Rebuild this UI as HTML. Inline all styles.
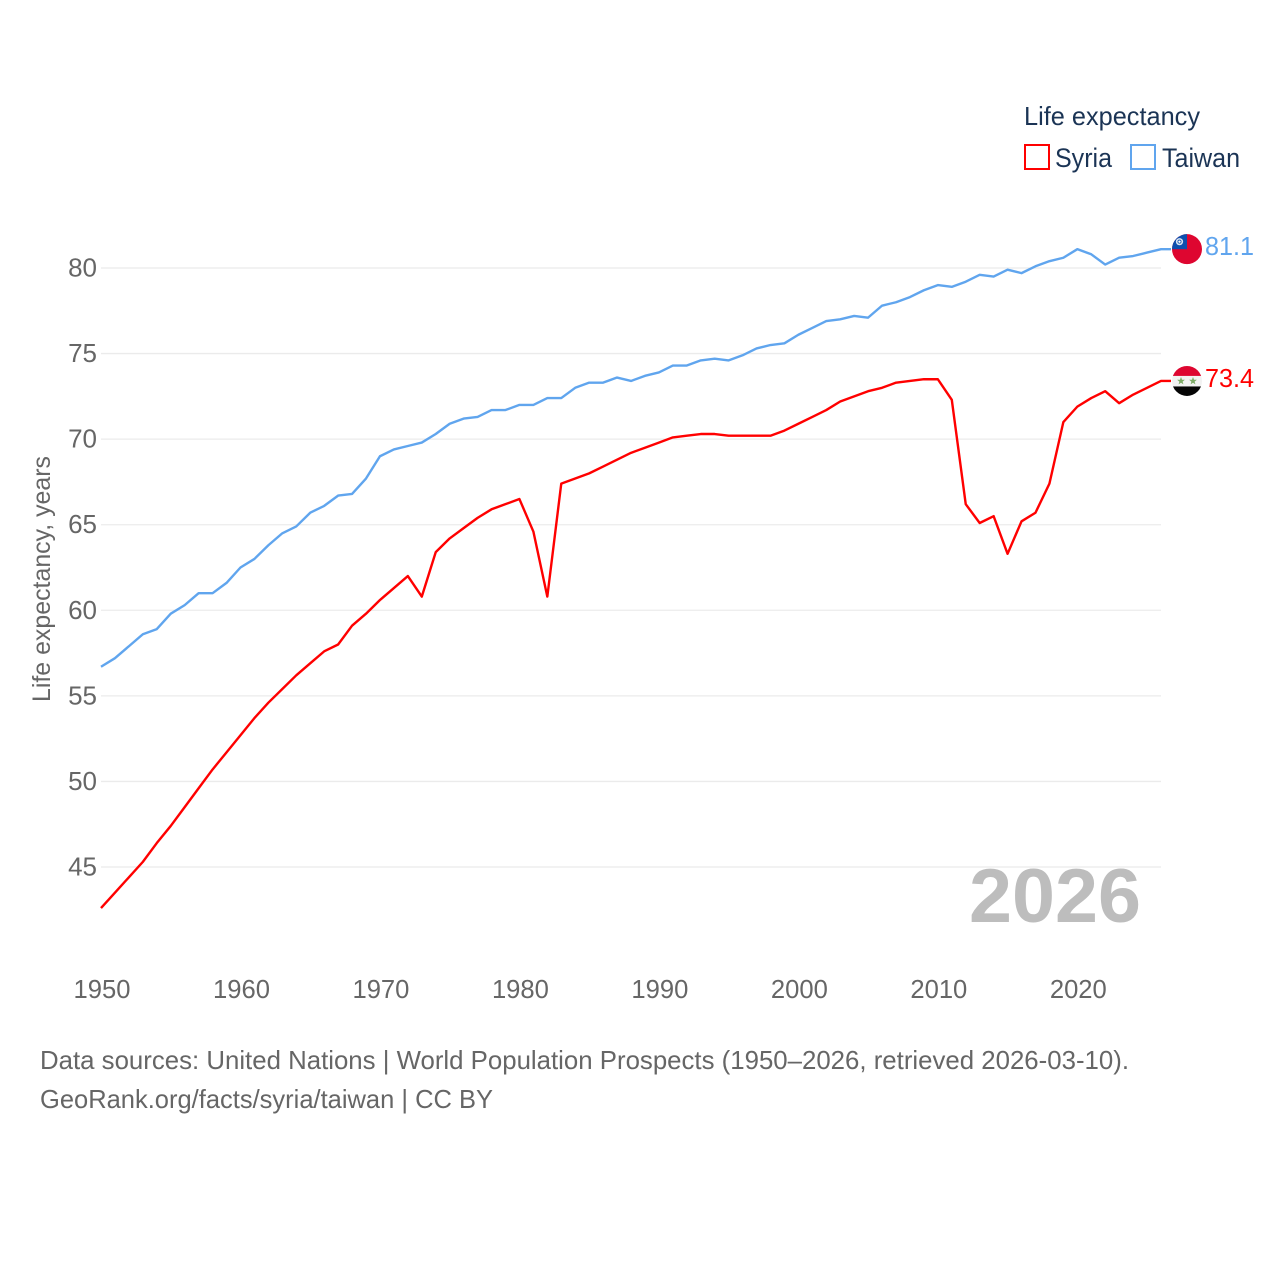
<!DOCTYPE html>
<html lang="en">
<head>
<meta charset="utf-8">
<title>Life expectancy: Syria vs Taiwan</title>
<style>
  html, body { margin: 0; padding: 0; background: #fff; }
  svg { display: block; font-family: "Liberation Sans", sans-serif; }
</style>
</head>
<body>
<svg id="chart" xmlns="http://www.w3.org/2000/svg" width="1280" height="1280" viewBox="0 0 1280 1280">
  <rect x="0" y="0" width="1280" height="1280" fill="#ffffff"/>
  <g id="grid"></g>
  <g id="y-ticks"></g>
  <g id="x-ticks"></g>
  <text x="969" y="922" font-size="76" font-weight="700" fill="#bdbdbd" textLength="172" lengthAdjust="spacingAndGlyphs">2026</text>
  <g id="series"></g>

  <text transform="translate(50,702) rotate(-90)" font-size="25" fill="#666666" textLength="246" lengthAdjust="spacingAndGlyphs">Life expectancy, years</text>

  <g>
    <text x="1024" y="125" font-size="26" fill="#1b3455" textLength="176" lengthAdjust="spacingAndGlyphs">Life expectancy</text>
    <g>
      <rect x="1025" y="145" width="24" height="24" fill="#ffffff" stroke="#ff0000" stroke-width="2"/>
      <text x="1055" y="167" font-size="27" fill="#1b3455" textLength="57" lengthAdjust="spacingAndGlyphs">Syria</text>
    </g>
    <g>
      <rect x="1131" y="145" width="24" height="24" fill="#ffffff" stroke="#60a5ee" stroke-width="2"/>
      <text x="1162" y="167" font-size="27" fill="#1b3455" textLength="78" lengthAdjust="spacingAndGlyphs">Taiwan</text>
    </g>
  </g>

  <defs>
    <clipPath id="flag-clip"><circle cx="0" cy="0" r="15"/></clipPath>
  </defs>
  <g id="flag-taiwan">
    <g clip-path="url(#flag-clip)">
      <rect x="-15" y="-16" width="30" height="32" fill="#de0630"/>
      <rect x="-15" y="-16" width="15" height="16" fill="#0d4fae"/>
      <circle cx="-7.5" cy="-7.5" r="3.6" fill="#ffffff" opacity="0.85"/>
      <circle cx="-7.5" cy="-7.5" r="2" fill="#0d4fae"/>
      <circle cx="-7.5" cy="-7.5" r="1.2" fill="#ffffff"/>
    </g>
  </g>
  <g id="flag-syria">
    <g clip-path="url(#flag-clip)">
      <rect x="-15" y="-16" width="30" height="11" fill="#de0630"/>
      <rect x="-15" y="-5" width="30" height="10.5" fill="#f2f2f2"/>
      <rect x="-15" y="5.5" width="30" height="11" fill="#050505"/>
      <polygon transform="translate(-6,0) scale(1.15)" points="0,-3.4 0.9,-1 3.4,-1 1.4,0.6 2.1,3 0,1.6 -2.1,3 -1.4,0.6 -3.4,-1 -0.9,-1" fill="#7dab66"/>
      <polygon transform="translate(6,0) scale(1.15)" points="0,-3.4 0.9,-1 3.4,-1 1.4,0.6 2.1,3 0,1.6 -2.1,3 -1.4,0.6 -3.4,-1 -0.9,-1" fill="#7dab66"/>
    </g>
  </g>
  <text id="value-taiwan" x="1205" font-size="26" fill="#60a5ee" textLength="49" lengthAdjust="spacingAndGlyphs"></text>
  <text id="value-syria" x="1205" font-size="26" fill="#ff0000" textLength="49" lengthAdjust="spacingAndGlyphs"></text>

  <text x="40" y="1069" font-size="26" fill="#666666" textLength="1089" lengthAdjust="spacingAndGlyphs">Data sources: United Nations | World Population Prospects (1950–2026, retrieved 2026-03-10).</text>
  <text x="40" y="1108" font-size="26" fill="#666666" textLength="453" lengthAdjust="spacingAndGlyphs">GeoRank.org/facts/syria/taiwan | CC BY</text>
</svg>
<script>
var firstYear = 1950;
var syriaValues = [
  42.6, 43.5, 44.4, 45.3, 46.4, 47.4, 48.5, 49.6, 50.7, 51.7,
  52.7, 53.7, 54.6, 55.4, 56.2, 56.9, 57.6, 58.0, 59.1, 59.8,
  60.6, 61.3, 62.0, 60.8, 63.4, 64.2, 64.8, 65.4, 65.9, 66.2,
  66.5, 64.6, 60.8, 67.4, 67.7, 68.0, 68.4, 68.8, 69.2, 69.5,
  69.8, 70.1, 70.2, 70.3, 70.3, 70.2, 70.2, 70.2, 70.2, 70.5,
  70.9, 71.3, 71.7, 72.2, 72.5, 72.8, 73.0, 73.3, 73.4, 73.5,
  73.5, 72.3, 66.2, 65.1, 65.5, 63.3, 65.2, 65.7, 67.4, 71.0,
  71.9, 72.4, 72.8, 72.1, 72.6, 73.0, 73.4
];
var taiwanValues = [
  56.7, 57.2, 57.9, 58.6, 58.9, 59.8, 60.3, 61.0, 61.0, 61.6,
  62.5, 63.0, 63.8, 64.5, 64.9, 65.7, 66.1, 66.7, 66.8, 67.7,
  69.0, 69.4, 69.6, 69.8, 70.3, 70.9, 71.2, 71.3, 71.7, 71.7,
  72.0, 72.0, 72.4, 72.4, 73.0, 73.3, 73.3, 73.6, 73.4, 73.7,
  73.9, 74.3, 74.3, 74.6, 74.7, 74.6, 74.9, 75.3, 75.5, 75.6,
  76.1, 76.5, 76.9, 77.0, 77.2, 77.1, 77.8, 78.0, 78.3, 78.7,
  79.0, 78.9, 79.2, 79.6, 79.5, 79.9, 79.7, 80.1, 80.4, 80.6,
  81.1, 80.8, 80.2, 80.6, 80.7, 80.9, 81.1
];
var yTickValues = [45, 50, 55, 60, 65, 70, 75, 80];
var xTickValues = [1950, 1960, 1970, 1980, 1990, 2000, 2010, 2020];

var SVG_NS = 'http://www.w3.org/2000/svg';
var plotLeft = 101;
var plotRight = 1161;
function xScale(year) { return plotLeft + (year - 1950) * (plotRight - plotLeft) / 76; }
function yScale(value) { return 268 + (80 - value) * (867 - 268) / 35; }
function make(tag, parent) {
  var el = document.createElementNS(SVG_NS, tag);
  parent.appendChild(el);
  return el;
}

var gridGroup = document.getElementById('grid');
var yTickGroup = document.getElementById('y-ticks');
yTickValues.forEach(function (value) {
  var line = make('line', gridGroup);
  
  
  line.setAttribute('x1', plotLeft);
  line.setAttribute('x2', plotRight);
  line.setAttribute('y1', yScale(value));
  line.setAttribute('y2', yScale(value));
  line.setAttribute('stroke', '#ebebeb');
  line.setAttribute('stroke-width', '1.3');

  var label = make('text', yTickGroup);
  
  
  label.setAttribute('x', 97);
  label.setAttribute('y', yScale(value) + 8.5);
  label.setAttribute('text-anchor', 'end');
  label.setAttribute('font-size', '26');
  label.setAttribute('fill', '#666666');
  label.textContent = value;
});

var xTickGroup = document.getElementById('x-ticks');
xTickValues.forEach(function (year) {
  var label = make('text', xTickGroup);
  
  
  label.setAttribute('x', xScale(year) + 1);
  label.setAttribute('y', 998);
  label.setAttribute('text-anchor', 'middle');
  label.setAttribute('font-size', '25.6');
  label.setAttribute('fill', '#666666');
  label.textContent = year;
});

function buildPoints(values) {
  var pts = values.map(function (value, i) {
    return xScale(firstYear + i).toFixed(2) + ',' + yScale(value).toFixed(2);
  });
  var last = values[values.length - 1];
  pts.push((plotRight + 10) + ',' + yScale(last).toFixed(2));
  return pts.join(' ');
}

var seriesGroup = document.getElementById('series');

var syriaLine = make('polyline', seriesGroup);


syriaLine.setAttribute('points', buildPoints(syriaValues));
syriaLine.setAttribute('fill', 'none');
syriaLine.setAttribute('stroke', '#ff0000');
syriaLine.setAttribute('stroke-width', '2.4');
syriaLine.setAttribute('stroke-linejoin', 'round');

var taiwanLine = make('polyline', seriesGroup);


taiwanLine.setAttribute('points', buildPoints(taiwanValues));
taiwanLine.setAttribute('fill', 'none');
taiwanLine.setAttribute('stroke', '#60a5ee');
taiwanLine.setAttribute('stroke-width', '2.4');
taiwanLine.setAttribute('stroke-linejoin', 'round');

var taiwanLast = taiwanValues[taiwanValues.length - 1];
var syriaLast = syriaValues[syriaValues.length - 1];
document.getElementById('flag-taiwan').setAttribute('transform', 'translate(1187,' + yScale(taiwanLast) + ')');
document.getElementById('flag-syria').setAttribute('transform', 'translate(1187,' + yScale(syriaLast) + ')');
var taiwanLabel = document.getElementById('value-taiwan');
taiwanLabel.setAttribute('y', yScale(taiwanLast) + 6);
taiwanLabel.textContent = taiwanLast.toFixed(1);
var syriaLabel = document.getElementById('value-syria');
syriaLabel.setAttribute('y', yScale(syriaLast) + 6);
syriaLabel.textContent = syriaLast.toFixed(1);
</script>
</body>
</html>
